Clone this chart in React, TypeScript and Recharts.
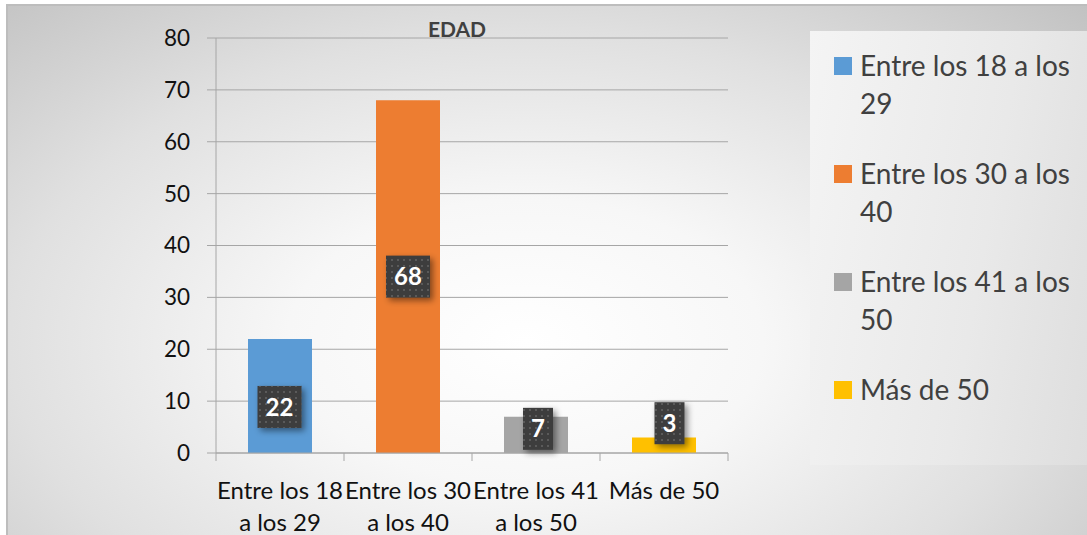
import React from 'react';
import { BarChart, Bar, XAxis, YAxis, CartesianGrid, Cell, LabelList, Legend } from 'recharts';

const categories = ['Entre los 18 a los 29', 'Entre los 30 a los 40', 'Entre los 41 a los 50', 'Más de 50'];
const values = [22, 68, 7, 3];
const colors = ['#5b9bd5', '#ed7d31', '#a5a5a5', '#ffc000'];
const tickLine1 = ['Entre los 18', 'Entre los 30', 'Entre los 41', 'Más de 50'];
const tickLine2 = ['a los 29', 'a los 40', 'a los 50', ''];
const yTicks = [0, 10, 20, 30, 40, 50, 60, 70, 80];
const title = 'EDAD';

const data = categories.map((name, i) => ({ name, value: values[i] }));

const FONT = 'Lato, "Open Sans", sans-serif';
const LABEL_NUDGE = [
  { dx: -0.5, dy: 11 },
  { dx: 0, dy: 0 },
  { dx: 2, dy: -6 },
  { dx: 5.5, dy: -22 },
];

function XTick(props: any) {
  const { x, y, payload } = props;
  const idx = categories.indexOf(payload?.value);
  const off = payload?.offset ?? 0;
  const last = idx === categories.length - 1;
  return (
    <g>
      <line x1={x - off} x2={x - off} y1={y} y2={y + 8} stroke="#a6a6a6" />
      {last && <line x1={x + off} x2={x + off} y1={y} y2={y + 8} stroke="#a6a6a6" />}
      <text x={x} y={y + 46} textAnchor="middle" fontFamily={FONT} fontSize={24} fill="#111">
        {tickLine1[idx]}
      </text>
      <text x={x} y={y + 78} textAnchor="middle" fontFamily={FONT} fontSize={24} fill="#111">
        {tickLine2[idx]}
      </text>
    </g>
  );
}

function ValueBox(props: any) {
  const vb = props.viewBox ?? {};
  const x = props.x ?? vb.x;
  const y = props.y ?? vb.y;
  const width = props.width ?? vb.width;
  const height = props.height ?? vb.height;
  const value = props.value;
  let index = props.index;
  if (index === undefined || index === null) index = values.indexOf(Number(value));
  const n = LABEL_NUDGE[index] ?? { dx: 0, dy: 0 };
  const cx = x + width / 2 + n.dx;
  const cy = y + height / 2 + n.dy;
  const w = String(value).length > 1 ? 44 : 30;
  const h = 42;
  return (
    <g>
      <rect x={cx - w / 2} y={cy - h / 2} width={w} height={h} fill="#3d3d3d" filter="url(#boxShadow)" />
      <rect x={cx - w / 2} y={cy - h / 2} width={w} height={h} fill="url(#dots)" />
      <text
        x={cx}
        y={cy}
        dy="0.36em"
        textAnchor="middle"
        fontFamily={FONT}
        fontWeight="bold"
        fontSize={24}
        fill="#ffffff"
      >
        {value}
      </text>
    </g>
  );
}

function LegendBox() {
  return (
    <div
      style={{
        width: 277,
        height: 434,
        boxSizing: 'border-box',
        paddingTop: 15,
        paddingLeft: 24,
        background: 'linear-gradient(100deg, #f4f4f4 0%, #e9e9e9 60%, #dedede 100%)',
        fontFamily: FONT,
        fontSize: 28,
        lineHeight: '38px',
        color: '#404040',
        textAlign: 'left',
      }}
    >
      {categories.map((c, i) => (
        <div key={c} style={{ display: 'flex', alignItems: 'flex-start', marginBottom: 32 }}>
          <div style={{ width: 18, height: 18, background: colors[i], marginTop: 11, flex: '0 0 18px' }} />
          <div style={{ width: 227, marginLeft: 8 }}>{c}</div>
        </div>
      ))}
    </div>
  );
}

export default function App() {
  return (
    <div style={{ position: 'absolute', left: 0, top: 0, width: 1087, height: 535, overflow: 'hidden', background: '#ffffff' }}>
      <div
        style={{
          position: 'absolute',
          left: 6,
          top: 4,
          width: 1100,
          height: 560,
          border: '2px solid #bdbdbd',
          background: 'radial-gradient(ellipse 72% 85% at 47% 60%, #ffffff 0%, #f7f7f7 30%, #e0e0e0 65%, #c2c2c2 100%)',
        }}
      />
      <div style={{ position: 'absolute', left: 0, top: 0 }}>
        <BarChart
          width={1087}
          height={535}
          data={data}
          margin={{ top: 38, right: 359, bottom: 12, left: 176 }}
          barCategoryGap="25%"
        >
          <defs>
            <pattern id="dots" width="6" height="6" patternUnits="userSpaceOnUse">
              <rect x="1" y="1" width="2" height="2" fill="#5a5a5a" />
            </pattern>
            <filter id="boxShadow" x="-30%" y="-30%" width="170%" height="170%">
              <feDropShadow dx="3" dy="3" stdDeviation="3" floodColor="#000" floodOpacity="0.45" />
            </filter>
          </defs>
          <CartesianGrid vertical={false} stroke="#a6a6a6" />
          <XAxis
            dataKey="name"
            height={70}
            interval={0}
            stroke="#a6a6a6"
            tickLine={false}
            tickSize={0}
            tickMargin={0}
            tick={<XTick />}
          />
          <YAxis
            domain={[0, 80]}
            ticks={yTicks}
            width={40}
            stroke="#a6a6a6"
            tickSize={9}
            tickMargin={17}
            tick={{ fill: '#111', fontSize: 22.5, fontFamily: FONT }}
          />
          <Legend
            layout="horizontal"
            verticalAlign="middle"
            align="center"
            wrapperStyle={{ position: 'absolute', left: 810, top: 31, width: 277, height: 434 }}
            content={() => <LegendBox />}
          />
          <Bar dataKey="value" isAnimationActive={false}>
            {data.map((d, i) => (
              <Cell key={d.name} fill={colors[i]} />
            ))}
            <LabelList dataKey="value" content={<ValueBox />} />
          </Bar>
        </BarChart>
      </div>
      <div
        style={{
          position: 'absolute',
          left: 357,
          width: 200,
          top: 18,
          textAlign: 'center',
          fontFamily: FONT,
          fontWeight: 'bold',
          fontSize: 21,
          lineHeight: '21px',
          color: '#404040',
        }}
      >
        {title}
      </div>
    </div>
  );
}
